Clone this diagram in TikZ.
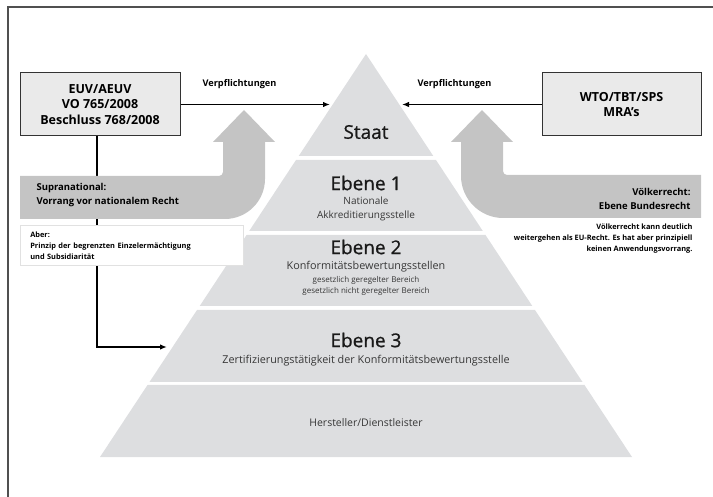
\documentclass[tikz,border=0pt]{standalone}
\usepackage{fontspec}
\setmainfont{Open Sans}
\newfontfamily\titlefont[FakeBold=0.7]{Open Sans}
\usetikzlibrary{arrows.meta}
\definecolor{pyr}{RGB}{221,222,224}
\definecolor{arrgray}{RGB}{196,196,196}
\definecolor{boxfill}{RGB}{234,234,234}
\definecolor{framecol}{RGB}{80,80,80}
\definecolor{subtxt}{RGB}{55,55,55}
\definecolor{aberline}{RGB}{225,225,225}
\newcommand{\fsz}[2]{\fontsize{#1}{#2}\selectfont}
\begin{document}
\begin{tikzpicture}[x=1pt,y=-1pt,
  layer/.style={fill=pyr},
  bigarrow/.style={fill=arrgray},
  lawbox/.style={draw=black!80,fill=boxfill,line width=1pt,minimum width=160pt,minimum height=63pt,align=center,font=\bfseries\fsz{12.5}{15.5}},
  conn/.style={line width=1.5pt,-{Latex[length=7pt,width=5.5pt]}},
  conlabel/.style={font=\bfseries\fsz{9.2}{11}},
  bandtext/.style={font=\bfseries\fsz{9.5}{14.5}},
  smalltext/.style={font=\bfseries\fsz{7.4}{11}},
  title/.style={font=\titlefont\fsz{19}{22},text=black!90},
  sub/.style={font=\fsz{10}{14},text=subtxt},
  tiny/.style={font=\fsz{8}{11},text=subtxt}]
\useasboundingbox (0,0) rectangle (713,497);
% frame
\draw[framecol,line width=1.5pt] (8,497) -- (8,7) -- (713,7);
% pyramid layers
\path[layer] (366,54) -- (433.3,156) -- (298.7,156) -- cycle;
\path[layer] (296,160) -- (436,160) -- (482.8,231) -- (249.2,231) -- cycle;
\path[layer] (246.5,235) -- (485.5,235) -- (532.3,306) -- (199.7,306) -- cycle;
\path[layer] (197,310) -- (535,310) -- (582.5,382) -- (149.5,382) -- cycle;
\path[layer] (147.5,385) -- (584.5,385) -- (632,457) -- (100,457) -- cycle;
% pyramid texts
\node[title] (staat) at (366,132) {Staat};
\node[title] (e1) at (366,183) {Ebene 1};
\node[sub] (e1a) at (366,201) {Nationale};
\node[sub] (e1b) at (366,216) {Akkreditierungsstelle};
\node[title] (e2) at (366,247) {Ebene 2};
\node[sub,font=\fsz{10.8}{14}] (e2a) at (366,267) {Konformitätsbewertungsstellen};
\node[tiny] (e2b) at (366,280) {gesetzlich geregelter Bereich};
\node[tiny] (e2c) at (366,291) {gesetzlich nicht geregelter Bereich};
\node[title] (e3) at (366,340) {Ebene 3};
\node[sub,font=\fsz{10.8}{14}] (e3a) at (366,361) {Zertifizierungstätigkeit der Konformitätsbewertungsstelle};
\node[sub,font=\fsz{10.5}{14}] (hd) at (366,423) {Hersteller/Dienstleister};
% boxes
\node[lawbox] (euv) at (100,104.5) {EUV/AEUV\\VO 765/2008\\Beschluss 768/2008};
\node[lawbox,minimum width=159pt] (wto) at (621.5,104.5) {WTO/TBT/SPS\\MRA’s};
% connector coordinates
\coordinate (tipL) at (330,104.5);
\coordinate (tipR) at (402,104.5);
\coordinate (vline) at (97,0);
\coordinate (tip3) at (167,347);
% connectors
\draw[conn] (euv.east) -- (tipL);
\draw[conn] (wto.west) -- (tipR);
\draw[conn] (euv.south -| vline) |- (tip3);
\node[conlabel,anchor=west] (vl) at (199,84) {Verpflichtungen};
\node[conlabel,anchor=west] (vr) at (414,84) {Verpflichtungen};
% big gray arrows
\path[bigarrow] (20,176) -- (219,176) .. controls (221.2,176) and (223,174.2) .. (223,172)
  -- (223,142) -- (213,142) -- (244,110) -- (275,142) -- (265,142) -- (265,179)
  .. controls (265,201) and (247,219) .. (225,219) -- (20,219) -- cycle;
\path[bigarrow] (701,175) -- (507,175) .. controls (504.8,175) and (503,173.2) .. (503,171)
  -- (503,142) -- (513,142) -- (482,110) -- (451,142) -- (461,142) -- (461,176)
  .. controls (461,199) and (480,218) .. (503,218) -- (701,218) -- cycle;
\node[bandtext,anchor=west,align=left] (supra) at (33,195) {Supranational:\\Vorrang vor nationalem Recht};
\node[bandtext,anchor=east,align=right] (voelk) at (694,199) {Völkerrecht:\\Ebene Bundesrecht};
% Aber box
\node[draw=aberline,fill=white,line width=0.6pt,anchor=north west,inner xsep=10pt,inner ysep=4pt,
  text width=203pt,minimum height=40pt,align=left,smalltext] (aber) at (20,225)
  {Aber:\\Prinzip der begrenzten Einzelermächtigung\\und Subsidiarität};
\node[smalltext,anchor=east,align=right] (vnote) at (696,239)
  {Völkerrecht kann deutlich\\weitergehen als EU-Recht. Es hat aber prinzipiell\\keinen Anwendungsvorrang.};
\end{tikzpicture}
\end{document}
